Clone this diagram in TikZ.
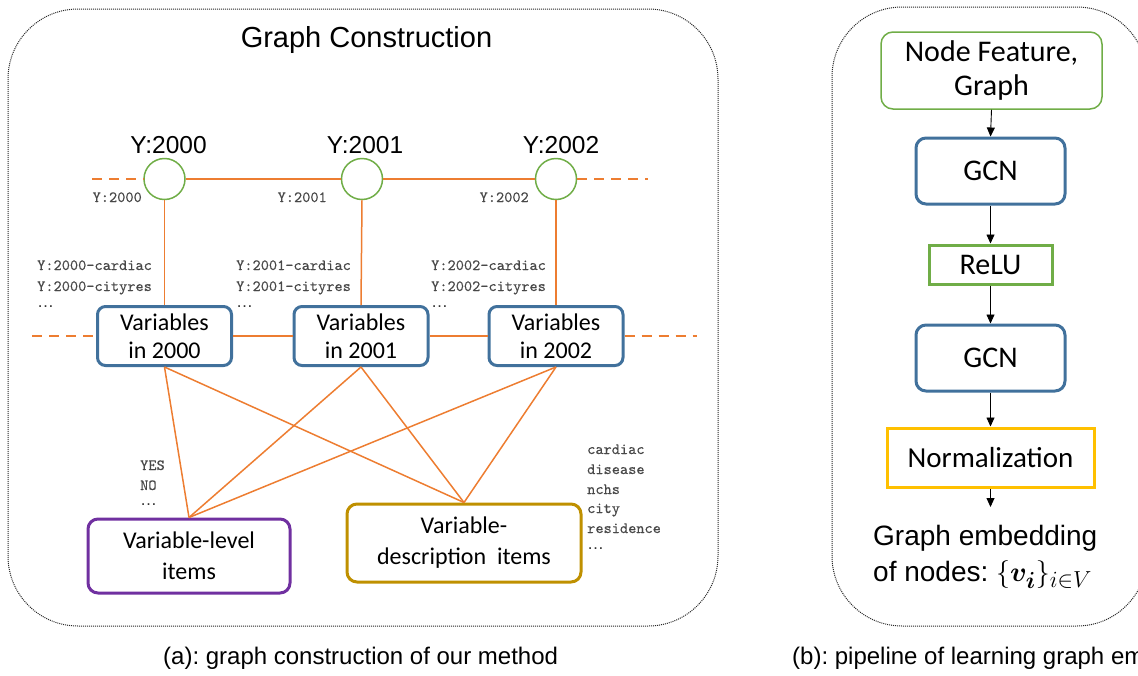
\documentclass[tikz,border=0pt]{standalone}
\usepackage{fontspec}
\setmainfont{Liberation Sans}
\newfontfamily\calib{Carlito}
\newfontfamily\mymono[FakeBold=0.3]{lmmono10-regular.otf}
\usepackage{bm}
\usetikzlibrary{arrows.meta}
\frenchspacing
\definecolor{orng}{HTML}{ED7D31}
\definecolor{bluec}{HTML}{41719C}
\definecolor{greenc}{HTML}{70AD47}
\definecolor{purplec}{HTML}{7030A0}
\definecolor{goldc}{HTML}{BF9000}
\definecolor{yellowc}{HTML}{FFC000}
\definecolor{tgray}{HTML}{484848}
\tikzset{
  outerbox/.style={draw=black!85, line width=1pt, dash pattern=on 1pt off 1pt, rounded corners=70pt},
  varbox/.style={draw=bluec, line width=3pt, rounded corners=8pt, minimum width=134pt, minimum height=59pt, inner sep=0pt, align=center, font=\calib\fontsize{24}{28}\selectfont},
  itembox/.style={line width=3pt, rounded corners=10pt, inner sep=0pt, align=center, font=\calib\fontsize{24}{31}\selectfont},
  yearnode/.style={circle, draw=greenc, line width=1.5pt, minimum size=41pt, inner sep=0pt},
  yearlab/.style={font=\fontsize{24.5}{28}\selectfont, anchor=base, inner sep=0pt},
  mono/.style={font=\mymono\fontsize{15.6}{20}\selectfont, text=tgray, inner sep=0pt},
  dots/.style={font=\fontsize{17}{18}\selectfont, text=black!80, inner sep=0pt, anchor=base west},
  oline/.style={draw=orng, line width=1.5pt},
  odash/.style={draw=orng, line width=1.8pt, dash pattern=on 10pt off 7pt},
  flowbox/.style={inner sep=0pt, align=center, font=\calib\fontsize{30}{34}\selectfont},
  arr/.style={draw=black, line width=0.9pt, -{Triangle[length=9pt,width=8pt]}},
  caption/.style={font=\fontsize{24}{28}\selectfont, anchor=base west, inner sep=0pt}
}
\begin{document}
\begin{tikzpicture}[x=1pt,y=-1pt]
\useasboundingbox (0,0) rectangle (1138,675);
% outer frames
\draw[outerbox] (8,9) rectangle (718,626);
\draw[outerbox] (832,7) rectangle (1147,626);

% ---------- (a) ----------
\node[font=\fontsize{29}{33}\selectfont, anchor=base, inner sep=0pt] (title) at (366.5,47) {Graph Construction};

\node[yearnode] (c1) at (164.5,179) {};
\node[yearnode] (c2) at (362,179) {};
\node[yearnode] (c3) at (556,179) {};
\node[yearlab] (l1) at (168.5,153) {Y:2000};
\node[yearlab] (l2) at (365,153) {Y:2001};
\node[yearlab] (l3) at (561,153) {Y:2002};

\node[mono, anchor=base east] (s1) at (142,202) {Y:2000};
\node[mono, anchor=base east] (s2) at (327,202) {Y:2001};
\node[mono, anchor=base east] (s3) at (529,202) {Y:2002};

\coordinate (tl) at (92,179);
\coordinate (tr) at (648,179);
\draw[odash] (tl) -- (c1.west);
\draw[oline, line width=1.8pt] (c1.east) -- (c2.west);
\draw[oline, line width=1.8pt] (c2.east) -- (c3.west);
\draw[odash] (c3.east) -- (tr);

\node[varbox] (v1) at (164.5,336) {Variables\\in 2000};
\node[varbox] (v2) at (361,336) {Variables\\in 2001};
\node[varbox] (v3) at (556,336) {Variables\\in 2002};

\draw[oline] (c1.south) -- (v1.north);
\draw[oline] (c2.south) -- (v2.north);
\draw[oline] (c3.south) -- (v3.north);

\node[mono, anchor=base west] (a1) at (37,270) {Y:2000-cardiac};
\node[mono, anchor=base west] (a2) at (37,291) {Y:2000-cityres};
\node[dots] (a3) at (37,307) {…};
\node[mono, anchor=base west] (b1) at (236,270) {Y:2001-cardiac};
\node[mono, anchor=base west] (b2) at (236,291) {Y:2001-cityres};
\node[dots] (b3) at (236,307) {…};
\node[mono, anchor=base west] (d1) at (431,270) {Y:2002-cardiac};
\node[mono, anchor=base west] (d2) at (431,291) {Y:2002-cityres};
\node[dots] (d3) at (431,307) {…};

\coordinate (ml) at (32,336);
\coordinate (mr) at (697,336);
\draw[odash] (ml) -- (v1.west);
\draw[oline, line width=1.8pt] (v1.east) -- (v2.west);
\draw[oline, line width=1.8pt] (v2.east) -- (v3.west);
\draw[odash] (v3.east) -- (mr);

\node[itembox, draw=purplec, minimum width=202pt, minimum height=74pt] (vl) at (189,556) {Variable-level\\items};
\node[itembox, draw=goldc, minimum width=234pt, minimum height=78pt] (vd) at (464,543) {Variable-\\description\ \ items};

\foreach \v in {v1,v2,v3}{
  \draw[oline] (\v.south) -- (vl.north);
  \draw[oline] (\v.south) -- (vd.north);
}

\node[mono, anchor=base west] (e1) at (140,470) {YES};
\node[mono, anchor=base west] (e2) at (140,490) {NO};
\node[dots] (e3) at (140,505) {…};

\node[mono, anchor=base west] (f1) at (587,454) {cardiac};
\node[mono, anchor=base west] (f2) at (587,474) {disease};
\node[mono, anchor=base west] (f3) at (587,494) {nchs};
\node[mono, anchor=base west] (f4) at (587,513) {city};
\node[mono, anchor=base west] (f5) at (587,533) {residence};
\node[dots] (f6) at (587,549) {…};

\node[caption] (capa) at (163,664) {(a): graph construction of our method};

% ---------- (b) ----------
\node[flowbox, draw=greenc, line width=1.5pt, rounded corners=12pt, minimum width=221pt, minimum height=77pt] (nf) at (991.5,70.5) {Node Feature,\\Graph};
\node[flowbox, draw=bluec, line width=3pt, rounded corners=10pt, minimum width=149pt, minimum height=66pt] (g1) at (990.5,171) {GCN};
\node[flowbox, draw=greenc, line width=3pt, minimum width=123pt, minimum height=39pt] (relu) at (990.5,264.5) {ReLU};
\node[flowbox, draw=bluec, line width=3pt, rounded corners=10pt, minimum width=149pt, minimum height=66pt] (g2) at (990.5,358) {GCN};
\node[flowbox, draw=yellowc, line width=3pt, minimum width=207pt, minimum height=59pt, font=\calib\fontsize{29}{34}\selectfont] (norm) at (990.5,457.5) {Normalization};
\node[anchor=north west, inner sep=0pt, align=left, font=\fontsize{28}{36}\selectfont] (emb) at (873,525) {Graph embedding\\of nodes: \scalebox{1.12}{$\{\bm{v}_{\bm{i}}\}_{i\in V}$}};
\coordinate (embtip) at (990.5,507);

\draw[arr] (nf.south) -- (g1.north);
\draw[arr] (g1.south) -- (relu.north);
\draw[arr] (relu.south) -- (g2.north);
\draw[arr] (g2.south) -- (norm.north);
\draw[arr] (norm.south) -- (embtip);

\node[caption] (capb) at (792,664) {(b): pipeline of learning graph embedding};
\end{tikzpicture}
\end{document}
